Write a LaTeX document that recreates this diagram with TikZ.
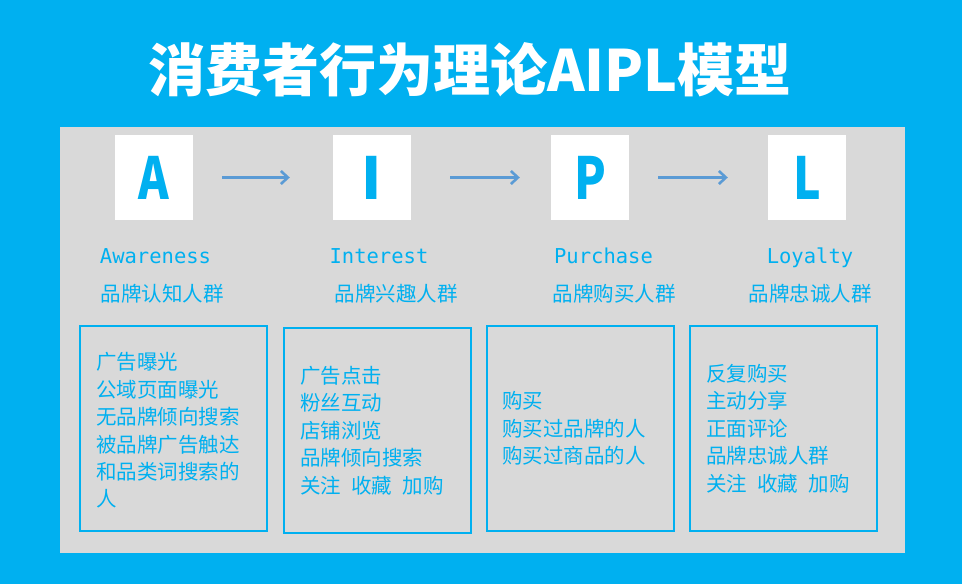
\documentclass[tikz,border=0pt]{standalone}
\usepackage{fontspec}
\setmainfont{Noto Sans CJK SC}
\newfontfamily\monofont{DejaVu Sans Mono}
\usetikzlibrary{arrows.meta}
\definecolor{aiplblue}{HTML}{00B0F0}
\definecolor{panelgray}{HTML}{D9D9D9}
\definecolor{arrowblue}{HTML}{5B9BD5}
\newcommand{\gap}{\hspace{0.5em}}
\begin{document}
\begin{tikzpicture}[x=1pt,y=-1pt,
	stage/.style={fill=white,minimum width=78pt,minimum height=85pt,inner sep=0pt,text=aiplblue,font=\bfseries\fontsize{58}{58}\selectfont},
	engl/.style={anchor=base,inner sep=0pt,text=aiplblue,font=\monofont\fontsize{20.5}{24}\selectfont},
	crowd/.style={anchor=base,inner sep=0pt,text=aiplblue,font=\fontsize{20.5}{24}\selectfont},
	frame/.style={draw=aiplblue,line width=2pt,minimum width=187pt,minimum height=205pt,inner sep=0pt},
	list/.style={anchor=west,align=left,inner sep=0pt,text=aiplblue,font=\fontsize{20.5}{27.4}\selectfont},
	flow/.style={draw=arrowblue,line width=2.6pt,-{Straight Barb[length=7pt,width=13pt]}}]
	\fill[aiplblue] (0,0) rectangle (962,584);
	\useasboundingbox (0,0) rectangle (962,584);
	\fill[panelgray] (60,127) rectangle (905,553);
	\node[text=white,font=\bfseries\fontsize{57}{57}\selectfont] (title) at (470,70) {消费者行为理论AIPL模型};
	% the four stages
	\node[stage] (A) at (154,177.5) {\scalebox{0.8}[1]{A}};
	\node[stage] (I) at (372,177.5) {I};
	\node[stage] (P) at (590,177.5) {\scalebox{0.8}[1]{P}};
	\node[stage] (L) at (807,177.5) {\scalebox{0.8}[1]{L}};
	\draw[flow,shorten <=29pt,shorten >=43pt] (A) -- (I);
	\draw[flow,shorten <=39pt,shorten >=31pt] (I) -- (P);
	\draw[flow,shorten <=29pt,shorten >=40pt] (P) -- (L);
	\node[engl] (awareness) at (155.5,263) {Awareness};
	\node[engl] (interest) at (379,263) {Interest};
	\node[engl] (purchase) at (603.5,263) {Purchase};
	\node[engl] (loyalty) at (810,263) {Loyalty};
	\node[crowd] (crowdA) at (162,301) {品牌认知人群};
	\node[crowd] (crowdI) at (396,301) {品牌兴趣人群};
	\node[crowd] (crowdP) at (614,301) {品牌购买人群};
	\node[crowd] (crowdL) at (810,301) {品牌忠诚人群};
	% boxes with the behaviours
	\node[frame] (boxA) at (173.5,428.5) {};
	\node[frame] (boxI) at (377.5,430.5) {};
	\node[frame] (boxP) at (580.5,428.5) {};
	\node[frame] (boxL) at (783.5,428.5) {};
	\node[list] (listA) at ([xshift=17pt,yshift=-2pt]boxA.west) {广告曝光\\公域页面曝光\\无品牌倾向搜索\\被品牌广告触达\\和品类词搜索的\\人};
	\node[list] (listI) at ([xshift=17pt]boxI.west) {广告点击\\粉丝互动\\店铺浏览\\品牌倾向搜索\\关注\gap 收藏\gap 加购};
	\node[list] (listP) at ([xshift=16pt]boxP.west) {购买\\购买过品牌的人\\购买过商品的人};
	\node[list] (listL) at ([xshift=17pt]boxL.west) {反复购买\\主动分享\\正面评论\\品牌忠诚人群\\关注\gap 收藏\gap 加购};
\end{tikzpicture}
\end{document}
